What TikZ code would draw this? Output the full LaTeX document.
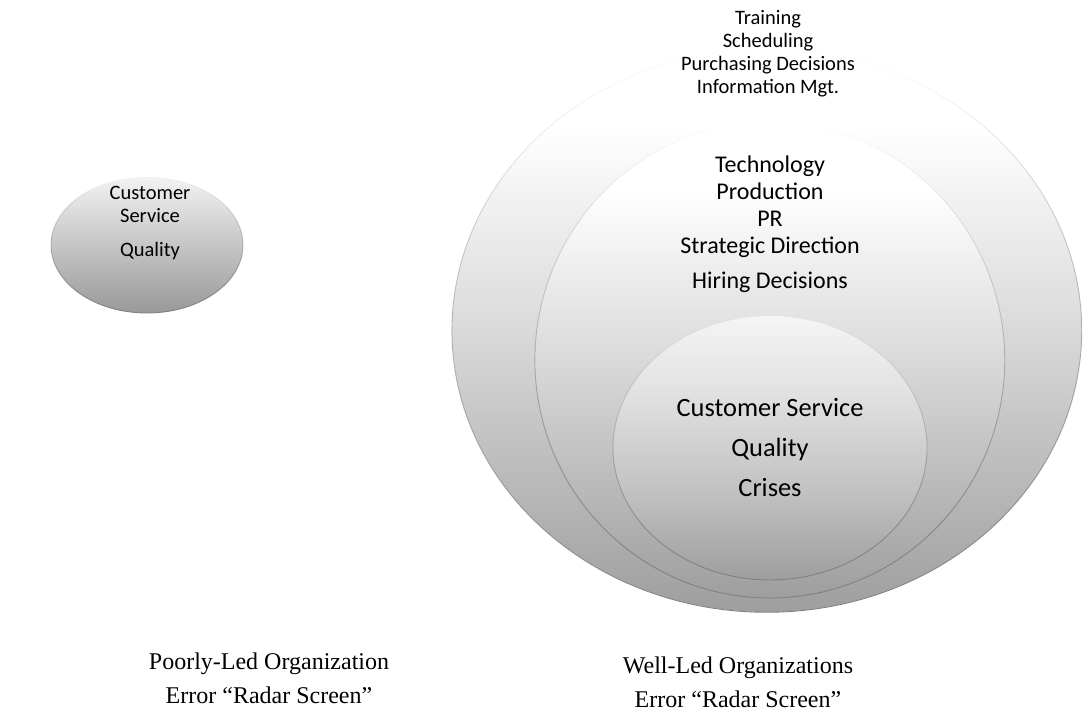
\documentclass[tikz,border=0pt]{standalone}
\usepackage{fontspec}
\setmainfont{Carlito}
\newfontfamily\timesfont{Liberation Serif}
\usetikzlibrary{shapes.geometric, fadings}
% grey at the bottom, white towards the top
\pgfdeclareverticalshading{radar}{100bp}{color(0bp)=(black!38); color(25bp)=(black!38); color(38bp)=(black!26); color(52bp)=(black!13); color(62bp)=(black!5); color(68bp)=(white); color(100bp)=(white)}
\pgfdeclareverticalshading{core}{100bp}{color(0bp)=(black!38); color(25bp)=(black!38); color(42bp)=(black!24); color(60bp)=(black!12); color(75bp)=(black!4); color(100bp)=(black!4)}
\pgfdeclareverticalshading{cup}{100bp}{color(0bp)=(black!40); color(25bp)=(black!40); color(45bp)=(black!26); color(65bp)=(black!12); color(75bp)=(black!5); color(100bp)=(black!5)}
% outlines only show on the lower half
\tikzfading[name=rimfade, top color=transparent!100, middle color=transparent!90, bottom color=transparent!0]
\tikzstyle{rim}=[draw=black!50, line width=0.9pt, path fading=rimfade]
\tikzstyle{items}=[align=center, font=\fontsize{20.5}{23}\selectfont]
\tikzstyle{caption}=[align=center, font=\timesfont\fontsize{24}{34}\selectfont]

\begin{document}
\begin{tikzpicture}[x=1pt, y=1pt]
		\useasboundingbox (0,0) rectangle (1084,721);
		\fill[white] (0,0) rectangle (1084,721);

		% poorly-led: one small cup
		\path[shading=cup] (147,476) ellipse [x radius=96, y radius=68];
		\draw[rim] (147,476) ellipse [x radius=96, y radius=68];

		% well-led: three nested rings
		\path[shading=radar] (767,391) ellipse [x radius=315, y radius=282];
		\draw[rim] (767,391) ellipse [x radius=315, y radius=282];
		\path[shading=radar] (770,361) ellipse [x radius=235, y radius=238];
		\draw[rim] (770,361) ellipse [x radius=235, y radius=238];
		\path[shading=core] (770,273) ellipse [x radius=157, y radius=132];
		\draw[rim] (770,273) ellipse [x radius=157, y radius=132];

		\node(p1)[items] at (150,498) {Customer\\Service\\[11pt]Quality};

		\node(w1)[items] at (768,667) {Training\\Scheduling\\Purchasing Decisions\\Information Mgt.};
		\node(w2)[items, font=\fontsize{24}{27}\selectfont] at (770,497) {Technology\\Production\\PR\\Strategic Direction\\[8pt]Hiring Decisions};
		\node(w3)[items, font=\fontsize{26.4}{40}\selectfont] at (770,273) {Customer Service\\Quality\\Crises};

		\node(c1)[caption] at (269,43) {Poorly-Led Organization\\Error “Radar Screen”};
		\node(c2)[caption] at (738,39) {Well-Led Organizations\\Error “Radar Screen”};
	\end{tikzpicture}
\end{document}
